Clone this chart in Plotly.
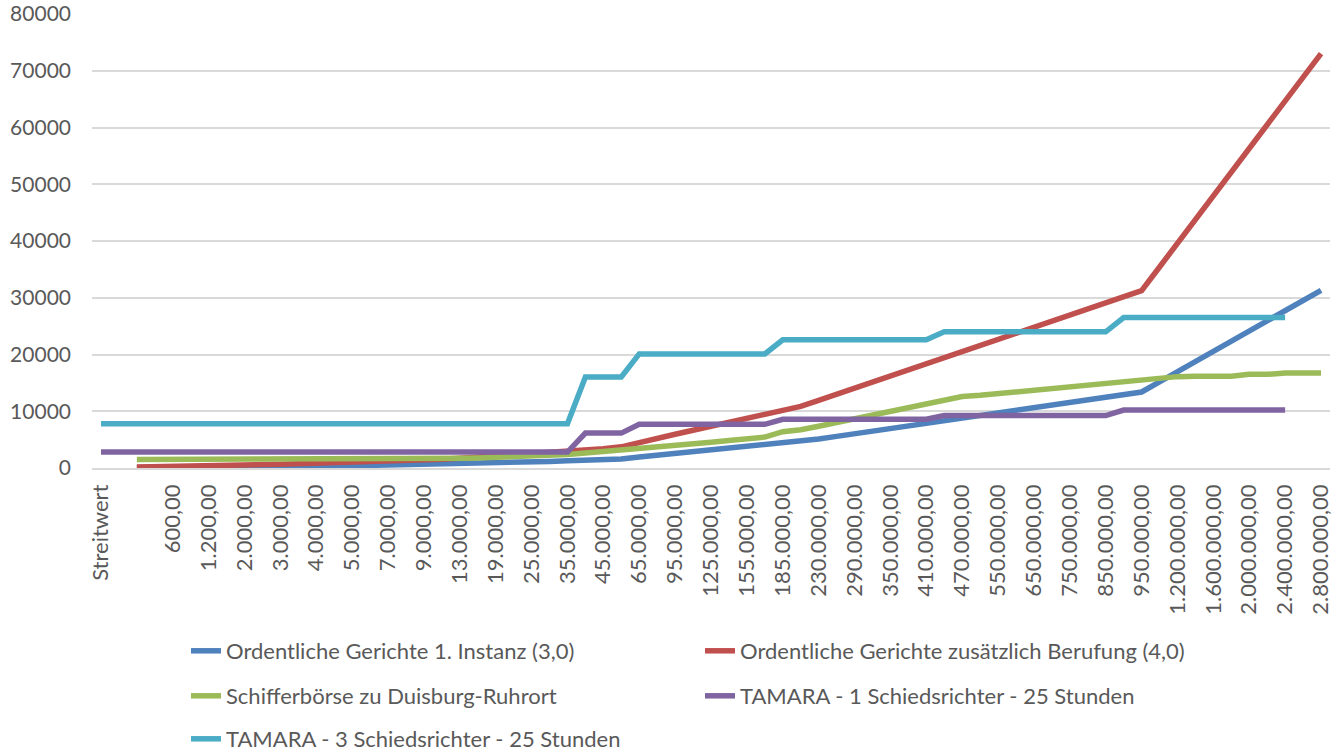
import plotly.graph_objects as go

categories = ["Streitwert", "", "", "300,00", "600,00", "900,00", "1.200,00", "1.500,00",
              "2.000,00", "2.500,00", "3.000,00", "3.500,00", "4.000,00", "4.500,00",
              "5.000,00", "6.000,00", "7.000,00", "8.000,00", "9.000,00", "10.000,00",
              "13.000,00", "16.000,00", "19.000,00", "22.000,00", "25.000,00", "30.000,00",
              "35.000,00", "40.000,00", "45.000,00", "50.000,00", "65.000,00", "80.000,00",
              "95.000,00", "110.000,00", "125.000,00", "140.000,00", "155.000,00",
              "170.000,00", "185.000,00", "200.000,00", "230.000,00", "260.000,00",
              "290.000,00", "320.000,00", "350.000,00", "380.000,00", "410.000,00",
              "440.000,00", "470.000,00", "500.000,00", "550.000,00", "600.000,00",
              "650.000,00", "700.000,00", "750.000,00", "800.000,00", "850.000,00",
              "900.000,00", "950.000,00", "1.000.000,00", "1.200.000,00", "1.400.000,00",
              "1.600.000,00", "1.800.000,00", "2.000.000,00", "2.200.000,00",
              "2.400.000,00", "2.600.000,00", "2.800.000,00"]

ordentlich_1 = [None, None, 70, 80, 110, 140, 170, 200, 230, 260, 290, 320, 350, 380, 410,
                460, 510, 560, 610, 660, 740, 820, 900, 980, 1060, 1160, 1260, 1360, 1460,
                1600, 1950, 2250, 2550, 2850, 3150, 3450, 3750, 4050, 4350, 4650, 5110,
                5570, 6030, 6490, 6950, 7410, 7870, 8330, 8790, 9250, 9710, 10170, 10630,
                11090, 11550, 12010, 12470, 12930, 13390, 15180, 16970, 18760, 20550,
                22340, 24130, 25920, 27710, 29500, 31300]

ordentlich_berufung = [None, None, 160, 190, 260, 330, 400, 470, 540, 610, 680, 750, 820,
                       890, 960, 1070, 1190, 1310, 1420, 1540, 1730, 1910, 2100, 2290, 2470,
                       2710, 2940, 3170, 3410, 3730, 4550, 5250, 5950, 6650, 7350, 8050,
                       8750, 9450, 10150, 10850, 11920, 13000, 14070, 15140, 16220, 17290,
                       18360, 19440, 20510, 21580, 22660, 23730, 24800, 25880, 26950, 28020,
                       29100, 30170, 31240, 35420, 39600, 43770, 47950, 52130, 56300, 60480,
                       64660, 68830, 73030]

schifferboerse = [None, None, 1500, 1500, 1500, 1500, 1500, 1500, 1500, 1500, 1500, 1500,
                  1500, 1500, 1500, 1500, 1500, 1500, 1550, 1600, 1700, 1780, 1860, 1950,
                  2050, 2200, 2400, 2650, 2900, 3100, 3450, 3750, 4050, 4300, 4550, 4850,
                  5150, 5450, 6400, 6750, 7350, 8000, 8700, 9350, 10000, 10700, 11400,
                  12100, 12600, 12800, 13100, 13400, 13700, 14000, 14300, 14600, 14950,
                  15250, 15550, 15850, 16100, 16150, 16150, 16150, 16500, 16500, 16750,
                  16750, 16750]

tamara_1 = [2800, 2800, 2800, 2800, 2800, 2800, 2800, 2800, 2800, 2800, 2800, 2800, 2800,
            2800, 2800, 2800, 2800, 2800, 2800, 2800, 2800, 2800, 2800, 2800, 2800, 2800,
            2800, 6150, 6150, 6150, 7700, 7700, 7700, 7700, 7700, 7700, 7700, 7700, 8580,
            8580, 8580, 8580, 8580, 8580, 8580, 8580, 8580, 9250, 9250, 9250, 9250, 9250,
            9250, 9250, 9250, 9250, 9250, 10200, 10200, 10200, 10200, 10200, 10200, 10200,
            10200, 10200, 10200, None, None]

tamara_3 = [7800, 7800, 7800, 7800, 7800, 7800, 7800, 7800, 7800, 7800, 7800, 7800, 7800,
            7800, 7800, 7800, 7800, 7800, 7800, 7800, 7800, 7800, 7800, 7800, 7800, 7800,
            7800, 16050, 16050, 16050, 20100, 20100, 20100, 20100, 20100, 20100, 20100,
            20100, 22600, 22600, 22600, 22600, 22600, 22600, 22600, 22600, 22600, 24000,
            24000, 24000, 24000, 24000, 24000, 24000, 24000, 24000, 24000, 26500, 26500,
            26500, 26500, 26500, 26500, 26500, 26500, 26500, 26500, None, None]

series_names = ["Ordentliche Gerichte 1. Instanz (3,0)",
                "Ordentliche Gerichte zusätzlich Berufung (4,0)",
                "Schifferbörse zu Duisburg-Ruhrort",
                "TAMARA - 1 Schiedsrichter - 25 Stunden",
                "TAMARA - 3 Schiedsrichter - 25 Stunden"]
series_values = [ordentlich_1, ordentlich_berufung, schifferboerse, tamara_1, tamara_3]
series_colors = ["#4F81BD", "#C0504D", "#9BBB59", "#8064A2", "#4BACC6"]
series_legend = ["legend", "legend", "legend2", "legend2", "legend3"]

y_ticks = [0, 10000, 20000, 30000, 40000, 50000, 60000, 70000, 80000]

FONT = "Lato, 'Open Sans', sans-serif"
TXT = "#595959"

x_idx = list(range(len(categories)))
tick_idx = x_idx[::2]
tick_txt = categories[::2]

fig = go.Figure()
for name, vals, col, lg in zip(series_names, series_values, series_colors, series_legend):
    fig.add_trace(go.Scatter(x=x_idx, y=vals, name=name, mode="lines",
                             line=dict(color=col, width=5.5),
                             connectgaps=False, legend=lg))

W, H = 1340, 751
L, R, T, B = 92, 10, 14, 283
plot_h = H - T - B

def ypaper(py):
    return (H - B - py) / plot_h

def xpaper(px):
    return (px - L) / (W - L - R)

leg_common = dict(orientation="h", xanchor="left", yanchor="middle",
                  font=dict(family=FONT, size=22, color=TXT),
                  bgcolor="rgba(0,0,0,0)", entrywidth=469, entrywidthmode="pixels",
                  traceorder="normal")

fig.update_layout(
    width=W, height=H,
    margin=dict(l=L, r=R, t=T, b=B, pad=0, autoexpand=False),
    paper_bgcolor="white", plot_bgcolor="white",
    showlegend=True,
    legend=dict(x=xpaper(186), y=ypaper(651), **leg_common),
    legend2=dict(x=xpaper(186), y=ypaper(696), **leg_common),
    legend3=dict(x=xpaper(186), y=ypaper(739), **leg_common),
    xaxis=dict(range=[-0.5, len(categories) - 0.5], tickmode="array",
               tickvals=tick_idx, ticktext=tick_txt, tickangle=-90,
               showgrid=False, zeroline=False, showline=True, linecolor="#D9D9D9",
               linewidth=1.5, ticks="", automargin=False, ticklabelstandoff=6,
               tickfont=dict(family=FONT, size=22, color=TXT)),
    yaxis=dict(range=[0, 80000], tickmode="array", tickvals=y_ticks,
               ticktext=[str(v) for v in y_ticks],
               showgrid=True, gridcolor="#D9D9D9", gridwidth=1.5,
               zeroline=False, showline=False, ticks="", automargin=False,
               ticklabelstandoff=20,
               tickfont=dict(family=FONT, size=21, color=TXT)),
)

fig.write_html("out.html")
